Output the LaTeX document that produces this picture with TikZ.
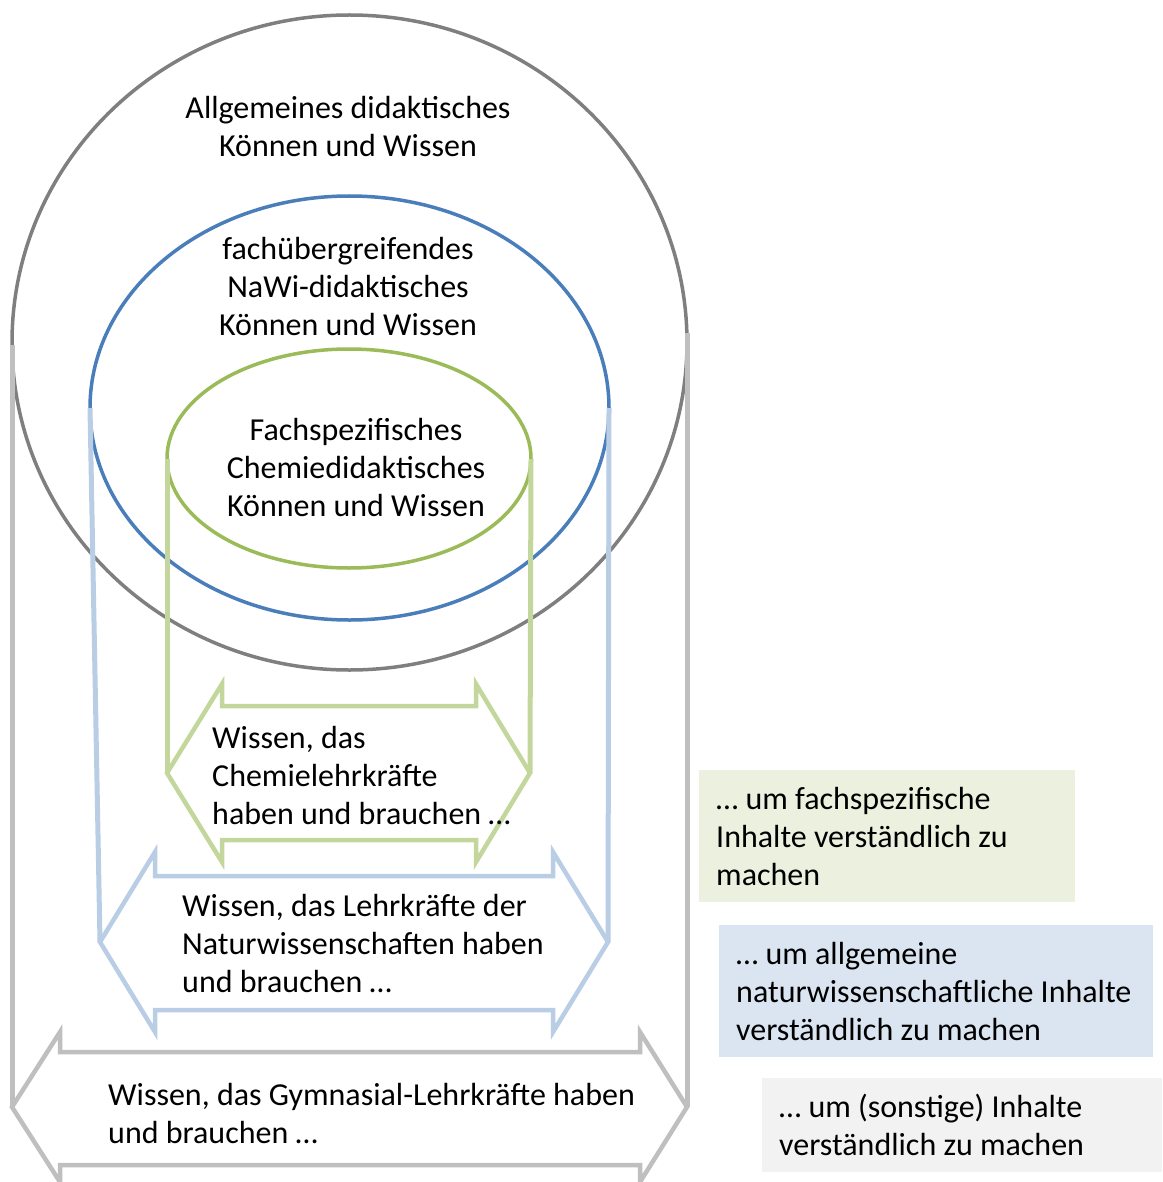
\documentclass[tikz,border=0pt]{standalone}
\usepackage{fontspec}
\setmainfont{Carlito}
\definecolor{ringgray}{HTML}{7F7F7F}
\definecolor{ringblue}{HTML}{4A7EBB}
\definecolor{ringgreen}{HTML}{9BBB59}
\definecolor{palegray}{HTML}{BFBFBF}
\definecolor{paleblue}{HTML}{B9CDE5}
\definecolor{palegreen}{HTML}{C3D69B}
\definecolor{boxgreen}{HTML}{EBF1DE}
\definecolor{boxblue}{HTML}{DBE5F1}
\definecolor{boxgray}{HTML}{F2F2F2}
\begin{document}
\begin{tikzpicture}[x=1pt,y=-1pt,
  ring/.style={line width=3.5pt},
  rail/.style={line width=5pt},
  dblarrow/.style={line width=4.5pt, line join=miter},
  label/.style={font=\fontsize{32}{38}\selectfont, inner sep=0pt},
  note/.style={label, anchor=north west, inner xsep=17pt, inner ysep=0pt, align=flush left}]
\useasboundingbox (0,0) rectangle (1162,1182);

% nested competence areas
\draw[ring, ringgray]  (349.5,342.5) ellipse [x radius=337.5, y radius=327.5];
\draw[ring, ringblue]  (349.5,408)   ellipse [x radius=259.5, y radius=212];
\draw[ring, ringgreen] (349,458.5)   ellipse [x radius=182,   y radius=109.5];

% rails from each area down to its double arrow
\coordinate (gL0) at (12,345);   \coordinate (gL1) at (12,1107);
\coordinate (gR0) at (687,333);  \coordinate (gR1) at (687,1107);
\coordinate (bL0) at (90,408);   \coordinate (bL1) at (100,942);
\coordinate (bR0) at (609,408);  \coordinate (bR1) at (608,942);
\coordinate (cL0) at (167,459);  \coordinate (cL1) at (167,773);
\coordinate (cR0) at (531,459);  \coordinate (cR1) at (530,773);
\draw[rail, palegray]  (gL0) -- (gL1);  \draw[rail, palegray]  (gR0) -- (gR1);
\draw[rail, paleblue]  (bL0) -- (bL1);  \draw[rail, paleblue]  (bR0) -- (bR1);
\draw[rail, palegreen] (cL0) -- (cL1);  \draw[rail, palegreen] (cR0) -- (cR1);

% double arrows
\draw[dblarrow, palegreen] (cL1) -- (222,684) -- (222,706) -- (476,706) -- (476,684)
  -- (cR1) -- (476,862) -- (476,840) -- (222,840) -- (222,862) -- cycle;
\draw[dblarrow, paleblue] (bL1) -- (155,852) -- (155,876) -- (553,876) -- (553,852)
  -- (bR1) -- (553,1032) -- (553,1010) -- (155,1010) -- (155,1032) -- cycle;
\draw[dblarrow, palegray] (gL1) -- (60,1032) -- (60,1052) -- (640,1052) -- (640,1032)
  -- (gR1) -- (640,1182) -- (640,1165) -- (60,1165) -- (60,1182) -- cycle;

% area titles
\node[label, align=center] (allg) at (348,126.5) {Allgemeines didaktisches\\Können und Wissen};
\node[label, align=center] (nawi) at (348,287) {fachübergreifendes\\NaWi-didaktisches\\Können und Wissen};
\node[label, align=center] (chem) at (356,467.5) {Fachspezifisches\\Chemiedidaktisches\\Können und Wissen};

% arrow texts
\node[label, align=left, anchor=west] (wchem) at (212,776) {Wissen, das\\Chemielehrkräfte\\haben und brauchen …};
\node[label, align=left, anchor=west] (wnawi) at (182,944) {Wissen, das Lehrkräfte der\\Naturwissenschaften haben\\und brauchen …};
\node[label, align=left, anchor=west] (wgym) at (108,1114) {Wissen, das Gymnasial-Lehrkräfte haben\\und brauchen …};

% purpose notes
\node[note, fill=boxgreen, text width=342pt, minimum height=132pt] (ngreen) at (699,770)
  {… um fachspezifische\\Inhalte verständlich zu\\machen};
\node[note, fill=boxblue, text width=400pt, minimum height=132pt] (nblue) at (719,925)
  {… um allgemeine\\naturwissenschaftliche Inhalte\\verständlich zu machen};
\node[note, fill=boxgray, text width=366pt, minimum height=94pt] (ngray) at (762,1078)
  {… um (sonstige) Inhalte\\verständlich zu machen};
\end{tikzpicture}
\end{document}
